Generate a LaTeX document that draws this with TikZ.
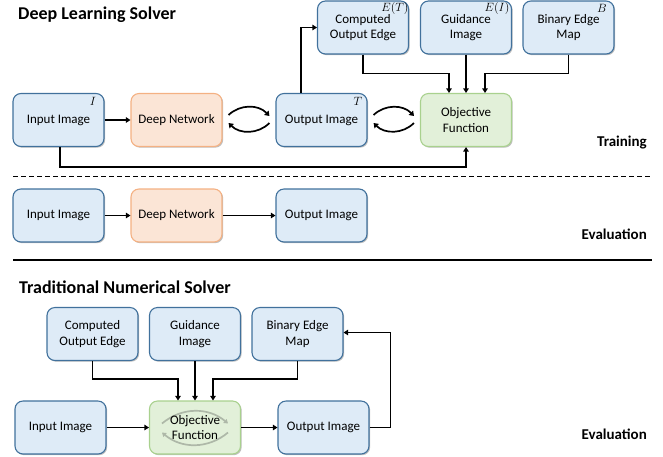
\documentclass[tikz,border=0pt]{standalone}
\usepackage{fontspec}
\setmainfont{Carlito}
\usetikzlibrary{arrows.meta,shadows,calc}
\definecolor{bfill}{HTML}{DEEBF7}
\definecolor{bdraw}{HTML}{41719C}
\definecolor{ofill}{HTML}{FBE5D6}
\definecolor{odraw}{HTML}{F4B183}
\definecolor{gfill}{HTML}{E2F0D9}
\definecolor{gdraw}{HTML}{A9D18E}
\definecolor{cyc}{HTML}{AEB8A8}
\tikzset{
  x=1pt,y=1pt,
  box/.style={rectangle,rounded corners=8pt,minimum width=91pt,minimum height=53pt,
    line width=1.1pt,align=center,inner sep=1pt,
    font=\fontsize{13}{15.5}\selectfont,
    drop shadow={shadow xshift=1.2pt,shadow yshift=-1.2pt,opacity=0.25,fill=black}},
  bluebox/.style={box,fill=bfill,draw=bdraw},
  orangebox/.style={box,fill=ofill,draw=odraw},
  greenbox/.style={box,fill=gfill,draw=gdraw},
  arr/.style={line width=1.7pt,-{Triangle[length=4.5pt,width=5.5pt]}},
  cycarr/.style={line width=1.7pt,-{Triangle[length=4.5pt,width=6pt]}},
  grayarr/.style={line width=1.7pt,draw=cyc,-{Triangle[length=4pt,width=5pt]}},
  title/.style={anchor=west,font=\fontsize{18}{21}\selectfont\bfseries,inner sep=0pt},
  phase/.style={anchor=east,font=\fontsize{15}{18}\selectfont\bfseries,inner sep=0pt},
  mlab/.style={font=\fontsize{11.5}{13}\selectfont,inner sep=0pt}
}
\begin{document}
\begin{tikzpicture}
\useasboundingbox (0,0) rectangle (663,-456);
% titles
\node[title] (t1) at (18,-15) {Deep Learning Solver};
\node[title] (t2) at (19,-287) {Traditional Numerical Solver};
\node[phase] (tr) at (647,-143) {Training};
\node[phase] (ev1) at (647,-234) {Evaluation};
\node[phase] (ev2) at (647,-434) {Evaluation};
% training row
\node[bluebox] (in1) at (58.5,-120) {Input Image};
\node[orangebox] (dn1) at (176.5,-120) {Deep Network};
\node[bluebox] (out1) at (321.5,-120) {Output Image};
\node[greenbox] (obj1) at (466,-120) {Objective\\Function};
\node[bluebox] (ce1) at (363,-27.5) {Computed\\Output Edge};
\node[bluebox] (gi1) at (466,-27.5) {Guidance\\Image};
\node[bluebox] (bm1) at (568.5,-27.5) {Binary Edge\\Map};
\node[mlab] (lI) at (93,-101) {$I$};
\node[mlab] (lT) at (358,-101) {$T$};
\node[mlab] (lET) at (395,-8) {$E(T)$};
\node[mlab] (lEI) at (497,-8) {$E(I)$};
\node[mlab] (lB) at (602,-8) {$B$};
\draw[arr] (in1.east) -- (dn1.west);
\draw[cycarr] ([xshift=6pt,yshift=5pt]dn1.east) to[bend left=45] ([xshift=-6pt,yshift=4pt]out1.west);
\draw[cycarr] ([xshift=-6pt,yshift=-3pt]out1.west) to[bend left=45] ([xshift=6pt,yshift=-3pt]dn1.east);
\draw[cycarr] ([xshift=6pt,yshift=5pt]out1.east) to[bend left=45] ([xshift=-6pt,yshift=4pt]obj1.west);
\draw[cycarr] ([xshift=-6pt,yshift=-3pt]obj1.west) to[bend left=45] ([xshift=6pt,yshift=-3pt]out1.east);
\draw[arr] ([xshift=-20.5pt]out1.north) |- (ce1.west);
\draw[arr] (ce1.south) -- ++(0,-19) -| ([xshift=-17pt]obj1.north);
\draw[arr] (gi1.south) -- (obj1.north);
\draw[arr] (bm1.south) -- ++(0,-19) -| ([xshift=19pt]obj1.north);
\draw[arr] ([xshift=1.5pt]in1.south) -- ++(0,-20) -| (obj1.south);
% separators
\coordinate (d1) at (13,-176);
\coordinate (d2) at (652,-176);
\draw[line width=1pt,dash pattern=on 4.5pt off 3.5pt] (d1) -- (d2);
\coordinate (s1) at (13,-260);
\coordinate (s2) at (652,-260);
\draw[line width=1.1pt] (s1) -- (s2);
% evaluation row
\node[bluebox] (in2) at (58.5,-215.5) {Input Image};
\node[orangebox] (dn2) at (176.5,-215.5) {Deep Network};
\node[bluebox] (out2) at (321.5,-215.5) {Output Image};
\draw[arr] (in2.east) -- (dn2.west);
\draw[arr] (dn2.east) -- (out2.west);
% traditional solver
\node[bluebox] (ce3) at (92.5,-334) {Computed\\Output Edge};
\node[bluebox] (gi3) at (195,-334) {Guidance\\Image};
\node[bluebox] (bm3) at (297.5,-334) {Binary Edge\\Map};
\node[bluebox] (in3) at (60.5,-427.5) {Input Image};
\node[greenbox] (obj3) at (195,-427.5) {};
\node[bluebox] (out3) at (323.5,-427.5) {Output Image};
\draw[grayarr] ($(obj3.center)+(-33,4)$) to[bend left=40] ($(obj3.center)+(33,4)$);
\draw[grayarr] ($(obj3.center)+(33,-5)$) to[bend left=40] ($(obj3.center)+(-33,-5)$);
\node[align=center,font=\fontsize{13}{15.5}\selectfont,inner sep=0pt] (obj3t) at (obj3.center) {Objective\\Function};
\draw[arr] (ce3.south) -- ++(0,-18) -| ([xshift=-17pt]obj3.north);
\draw[arr] (gi3.south) -- (obj3.north);
\draw[arr] (bm3.south) -- ++(0,-18) -| ([xshift=18pt]obj3.north);
\draw[arr] (in3.east) -- (obj3.west);
\draw[arr] (obj3.east) -- (out3.west);
\draw[arr] (out3.east) -- ++(21,0) |- ([yshift=1.5pt]bm3.east);
\end{tikzpicture}
\end{document}
